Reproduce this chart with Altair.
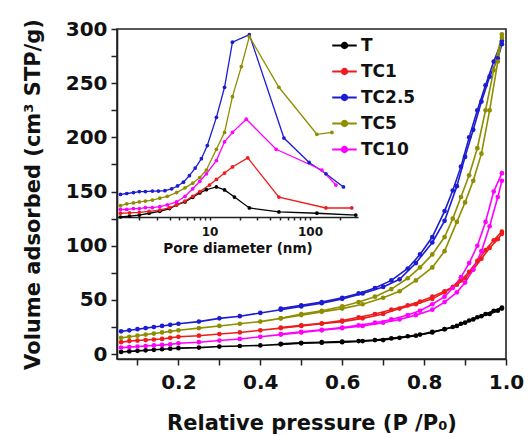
import altair as alt
import pandas as pd

samples = ["T", "TC1", "TC2.5", "TC5", "TC10"]
colors = ["#000000", "#ee1c1c", "#1c1cd2", "#8e8e00", "#ff00ff"]

# Main plot: N2 isotherms (relative pressure vs volume adsorbed)
p_ads = [0.06, 0.08, 0.10, 0.12, 0.14, 0.16, 0.18, 0.20, 0.25, 0.30, 0.35, 0.40, 0.45, 0.50, 0.55,
         0.60, 0.65, 0.70, 0.74, 0.78, 0.82, 0.85, 0.88, 0.90, 0.92, 0.94, 0.96, 0.98, 0.99]
T_ads = [2, 2.5, 3, 3.5, 4, 4.5, 5, 5.5, 6, 7, 7.5, 8, 9, 10, 10.5, 11, 12, 13, 15, 17, 20, 23, 26, 29, 32, 35, 37, 40, 42]
TC1_ads = [11, 12, 12.5, 13, 13.5, 14, 15, 16, 17, 18.5, 20, 22, 24, 26, 28, 30, 33, 37, 42, 46, 51, 57, 64, 70, 78, 88, 98, 106, 111]
TC25_ads = [21, 22, 23, 24, 25, 26, 27, 28, 30, 33, 35, 38, 41, 44, 47, 51, 56, 62, 69, 84, 103, 123, 155, 182, 207, 233, 256, 273, 286]
TC5_ads = [15, 16, 17, 18, 19, 20, 21, 22, 24, 26, 28, 30, 33, 36, 39, 42, 46, 52, 58, 68, 80, 95, 122, 140, 160, 185, 225, 270, 292]
TC10_ads = [6, 6.5, 7, 7.5, 8, 8.5, 9, 10, 11, 12.5, 14, 16, 18, 20, 22, 24, 26, 29, 32, 36, 41, 48, 57, 66, 78, 95, 118, 145, 160]

p_des = [0.99, 0.97, 0.95, 0.93, 0.91, 0.89, 0.87, 0.85, 0.82, 0.79, 0.76, 0.72, 0.68, 0.64, 0.60, 0.55, 0.50, 0.45]
T_des = [43, 40, 37, 34, 31, 28, 25, 23, 20.5, 18, 16.5, 14.5, 13, 12, 11.5, 11, 10.5, 9.5]
TC1_des = [113, 105, 96, 86, 76, 68, 62, 58, 53, 48.5, 45, 41, 37, 34, 31, 28.5, 26.5, 24.5]
TC25_des = [289, 270, 248, 225, 200, 173, 151, 132, 108, 92, 79, 68, 61, 56, 52, 48, 45, 42]
TC5_des = [295, 262, 225, 190, 165, 145, 125, 108, 92, 80, 70, 60, 53, 48, 44, 40, 37, 33]
TC10_des = [167, 150, 122, 100, 84, 71, 61, 53, 46, 40, 36, 32, 29, 26.5, 24.5, 22.5, 20.5, 18.5]

# Inset: pore size distribution (arbitrary units)
T_d = [1.3, 1.6, 2.0, 2.5, 3.2, 4.0, 4.7, 5.7, 6.8, 8.0, 9.3, 11.7, 14.1, 17.7, 24.9, 49, 117, 285]
T_v = [0, 0.5, 1, 2, 3, 4.5, 6.4, 8, 10.5, 12.8, 14.5, 16, 14.4, 10.6, 4.8, 2.7, 2, 1]
TC1_d = [1.3, 1.6, 2.0, 2.5, 3.2, 4.0, 4.7, 5.7, 6.8, 8.0, 10.0, 11.7, 14.1, 16.9, 24.0, 49, 144, 260]
TC1_v = [2, 2.2, 2.5, 3, 3.7, 5, 6.5, 8.5, 11, 13.5, 17, 20, 23.4, 26.6, 31.4, 10.6, 4.8, 4.8]
TC25_d = [1.3, 1.5, 1.75, 2.0, 2.3, 2.7, 3.1, 3.6, 4.2, 4.8, 5.5, 6.3, 7.2, 8.3, 9.5, 11.7, 14.1, 16.9, 24.9, 55, 98, 144, 215]
TC25_v = [12, 12.5, 13, 13.5, 13.5, 13.8, 13.8, 14, 15, 16.5, 18.5, 22, 26, 31, 38, 53, 69, 93, 97, 42, 29, 23, 16]
TC5_d = [1.3, 1.5, 1.75, 2.0, 2.3, 2.7, 3.2, 3.8, 4.7, 5.7, 6.8, 8.0, 9.3, 11.7, 14.1, 16.9, 20.7, 24.9, 49, 117, 165]
TC5_v = [6, 7, 7.5, 8, 8.5, 9, 10, 11, 13, 15.5, 18, 21, 25, 36, 45, 64, 80, 96, 69, 44, 45]
TC10_d = [1.3, 1.5, 1.75, 2.0, 2.3, 2.7, 3.2, 3.8, 4.7, 5.7, 6.8, 8.0, 9.3, 11.7, 14.1, 16.9, 23.2, 46, 131, 181]
TC10_v = [4, 4, 4.5, 4.5, 5, 5, 5.5, 6.5, 8, 11, 15, 19, 23, 30, 40, 45, 52, 36, 25, 17]

ads = [T_ads, TC1_ads, TC25_ads, TC5_ads, TC10_ads]
des = [T_des, TC1_des, TC25_des, TC5_des, TC10_des]
inset_d = [T_d, TC1_d, TC25_d, TC5_d, TC10_d]
inset_v = [T_v, TC1_v, TC25_v, TC5_v, TC10_v]

rows = []
for s, a, d in zip(samples, ads, des):
    for p, v in zip(p_ads, a):
        rows.append({"sample": s, "branch": "ads", "P": p, "V": v})
    for p, v in zip(p_des, d):
        rows.append({"sample": s, "branch": "des", "P": p, "V": v})
main_df = pd.DataFrame(rows)

irows = []
for s, dd, vv in zip(samples, inset_d, inset_v):
    for d, v in zip(dd, vv):
        irows.append({"sample": s, "D": d, "dV": v})
inset_df = pd.DataFrame(irows)

FONT = "DejaVu Sans"

legend_path = "M-1,0L1,0M0.22,0A0.22,0.22 0 1,1 -0.22,0A0.22,0.22 0 1,1 0.22,0Z"

legend = alt.Legend(
    orient="none", legendX=214, legendY=3, title=None,
    symbolType=legend_path, symbolSize=600, symbolStrokeWidth=2,
    labelFont=FONT, labelFontWeight="bold", labelFontSize=17, labelColor="#111",
    rowPadding=4, labelOffset=3, symbolOffset=0,
)

color = alt.Color("sample:N", scale=alt.Scale(domain=samples, range=colors), legend=legend)

main = alt.Chart(main_df).mark_line(
    strokeWidth=1.6,
    point=alt.OverlayMarkDef(filled=True, size=22, shape="circle"),
).encode(
    x=alt.X("P:Q", scale=alt.Scale(domain=[0.05, 1.0], nice=False, zero=False),
            axis=alt.Axis(orient="bottom", values=[0.1, 0.2, 0.3, 0.4, 0.5, 0.6, 0.7, 0.8, 0.9, 1.0],
                          format=".1f",
                          labelExpr="(round(datum.value*10) % 2 == 0) ? datum.label : ''",
                          title="Relative pressure (P /P\u2080)", tickSize=6, labelPadding=7,
                          titlePadding=20, labelFontSize=20, titleFontSize=21, labelFlush=False)),
    y=alt.Y("V:Q", scale=alt.Scale(domain=[-4.5, 300], nice=False, zero=False),
            axis=alt.Axis(orient="left", values=list(range(0, 301, 25)),
                          labelExpr="datum.value % 50 == 0 ? datum.label : ''",
                          title="Volume adsorbed (cm\u00b3 STP/g)", tickSize=6, labelPadding=4,
                          titlePadding=22, labelFontSize=20, titleFontSize=21)),
    color=color,
    detail="branch:N",
)

inset = alt.Chart(inset_df).mark_line(
    strokeWidth=1.3,
    point=alt.OverlayMarkDef(filled=True, size=14, shape="circle"),
).encode(
    x=alt.X("D:Q", scale=alt.Scale(type="log", domain=[1.2, 300], range=[0, 241], nice=False),
            axis=alt.Axis(orient="bottom", offset=-142,
                          values=[2, 3, 4, 5, 6, 7, 8, 9, 10, 20, 30, 40, 50, 60, 70, 80, 90, 100, 200],
                          format="d",
                          labelExpr="(datum.value == 10 || datum.value == 100) ? datum.label : ''",
                          title="Pore diameter (nm)", tickSize=3, labelPadding=6, titlePadding=4,
                          labelFontSize=12, titleFontSize=13.5, labelFlush=False)),
    y=alt.Y("dV:Q", scale=alt.Scale(domain=[0, 100], range=[188, 0], nice=False), axis=None),
    color=color,
)

chart = alt.layer(inset, main).resolve_scale(x="independent", y="independent").properties(
    width=389, height=330,
    autosize=alt.AutoSizeParams(type="none"),
    padding={"left": 117, "top": 29, "right": 22, "bottom": 77},
    background="white",
).configure_view(
    stroke="#222", strokeWidth=1.6
).configure_axis(
    grid=False, domainColor="#222", tickColor="#222", domainWidth=1.6, tickWidth=1.5,
    labelFont=FONT, titleFont=FONT, labelFontWeight="bold", titleFontWeight="bold",
    labelColor="#111", titleColor="#111",
)

chart.save("out.html", embed_options={"renderer": "svg", "actions": False})
